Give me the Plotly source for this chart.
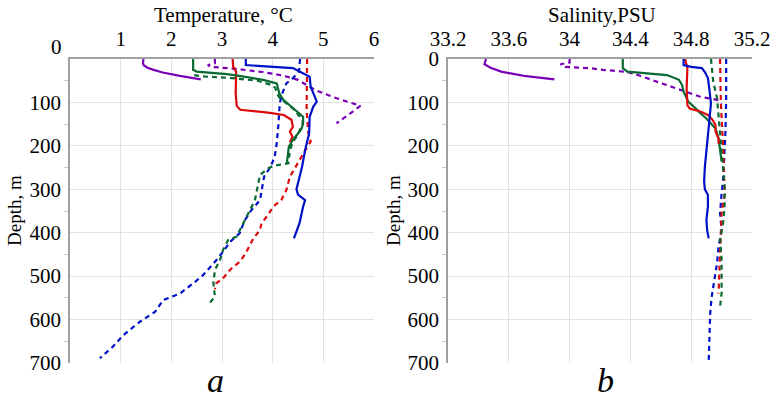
import plotly.graph_objects as go

# ---------------- Panel a : Temperature ----------------
ta_purple_solid_d = [0, 10, 15, 20, 25, 31, 39, 47]
ta_purple_solid_t = [1.45, 1.44, 1.46, 1.53, 1.65, 1.83, 2.17, 2.58]

ta_purple_dash_d = [0, 10, 14, 18, 23, 30, 38, 48, 60, 72, 88, 108, 128, 148]
ta_purple_dash_t = [2.86, 2.86, 2.72, 2.78, 3.3, 3.8, 4.2, 4.5, 4.67, 4.85, 5.2, 5.73, 5.5, 5.26]

ta_blue_solid_d = [0, 14, 21, 41, 64, 87, 98, 110, 133, 171, 210, 248, 282, 300, 312, 325, 340, 378, 413]
ta_blue_solid_t = [3.47, 3.47, 4.4, 4.73, 4.75, 4.83, 4.87, 4.8, 4.73, 4.72, 4.64, 4.58, 4.5, 4.47, 4.5, 4.64, 4.6, 4.53, 4.42]

ta_blue_dash_d = [0, 29, 44, 56, 79, 102, 156, 194, 225, 248, 271, 294, 309, 325, 348, 371, 401, 421, 444,
                  463, 497, 513, 540, 555, 582, 605, 636, 662, 689]
ta_blue_dash_t = [4.54, 4.52, 4.4, 4.27, 4.19, 4.14, 4.11, 4.08, 4.04, 3.96, 3.83, 3.8, 3.78, 3.75, 3.58, 3.45,
                  3.35, 3.16, 3.02, 2.89, 2.63, 2.47, 2.17, 1.84, 1.68, 1.38, 1.05, 0.85, 0.59]

ta_red_solid_d = [0, 18, 29, 79, 108, 117, 124, 129, 140, 156, 167, 179, 192]
ta_red_solid_t = [3.21, 3.22, 3.28, 3.27, 3.29, 3.36, 3.95, 4.22, 4.37, 4.4, 4.34, 4.39, 4.34]

ta_red_dash_d = [0, 68, 117, 167, 190, 205, 229, 244, 271, 302, 325, 340, 359, 378, 394, 413, 447, 467, 484,
                 505, 516, 530]
ta_red_dash_t = [4.68, 4.68, 4.67, 4.7, 4.75, 4.67, 4.55, 4.47, 4.34, 4.27, 4.17, 4.01, 3.91, 3.78, 3.75, 3.62,
                 3.47, 3.35, 3.17, 3.02, 2.89, 2.86]

ta_green_solid_d = [0, 25, 29, 35, 40, 48, 56, 79, 94, 114, 133, 150, 163, 186, 202, 220, 240]
ta_green_solid_t = [2.43, 2.43, 2.5, 3.1, 3.4, 3.81, 4.08, 4.13, 4.21, 4.4, 4.6, 4.6, 4.56, 4.4, 4.32, 4.3, 4.28]

ta_green_dash_d = [37, 40, 44, 50, 60, 66, 78, 90, 114, 133, 144, 163, 179, 190, 210, 240, 246, 252, 267, 294,
                   325, 348, 378, 409, 417, 440, 463, 486, 516, 547, 566]
ta_green_dash_t = [2.45, 2.6, 3.2, 3.7, 3.98, 4.05, 4.08, 4.14, 4.4, 4.54, 4.6, 4.54, 4.47, 4.4, 4.34, 4.31,
                   4.01, 3.91, 3.75, 3.71, 3.65, 3.55, 3.42, 3.29, 3.12, 3.02, 2.96, 2.86, 2.83, 2.86, 2.73]

# ---------------- Panel b : Salinity ----------------
sb_purple_solid_d = [0, 12, 20, 29, 39, 47]
sb_purple_solid_s = [33.45, 33.44, 33.48, 33.55, 33.7, 33.9]

sb_purple_dash_d = [0, 8, 12, 18, 21, 25, 30, 37, 48, 60, 75, 87, 94, 104]
sb_purple_dash_s = [34.0, 34.0, 33.94, 33.97, 34.13, 34.22, 34.38, 34.45, 34.54, 34.64, 34.77, 34.86, 34.97, 35.0]

sb_blue_solid_d = [0, 14, 18, 21, 30, 44, 71, 102, 140, 175, 210, 248, 282, 300, 313, 340, 371, 394, 413]
sb_blue_solid_s = [34.75, 34.75, 34.8, 34.87, 34.89, 34.91, 34.92, 34.93, 34.92, 34.91, 34.9, 34.89, 34.885,
                   34.89, 34.91, 34.91, 34.9, 34.905, 34.915]

sb_blue_dash_d = [0, 94, 171, 248, 279, 309, 355, 394, 432, 470, 509, 547, 585, 624, 662, 697]
sb_blue_dash_s = [35.03, 35.03, 35.025, 35.015, 35.01, 35.0, 34.99, 35.0, 34.98, 34.97, 34.95, 34.935, 34.925,
                  34.92, 34.92, 34.915]

sb_red_solid_d = [0, 21, 67, 106, 114, 121, 129, 140, 152, 167, 183, 195]
sb_red_solid_s = [34.76, 34.775, 34.77, 34.775, 34.79, 34.86, 34.91, 34.94, 34.96, 34.96, 34.98, 34.98]

sb_red_dash_d = [0, 100, 200, 313, 355, 432, 470, 524, 540]
sb_red_dash_s = [34.99, 34.995, 35.01, 35.02, 35.0, 34.99, 34.99, 34.98, 34.98]

sb_green_solid_d = [0, 21, 29, 33, 37, 48, 60, 75, 98, 114, 125, 137, 160, 183, 206, 236]
sb_green_solid_s = [34.35, 34.35, 34.38, 34.5, 34.64, 34.72, 34.74, 34.75, 34.78, 34.83, 34.86, 34.9, 34.96,
                    34.98, 34.99, 35.0]

sb_green_dash_d = [0, 52, 90, 150, 221, 294, 340, 378, 417, 460, 493, 540, 570]
sb_green_dash_s = [34.93, 34.945, 34.97, 34.985, 35.0, 35.02, 35.02, 35.01, 34.99, 35.0, 35.0, 35.0, 34.99]

temp_ticks = [1, 2, 3, 4, 5, 6]
sal_ticks = [33.2, 33.6, 34.0, 34.4, 34.8, 35.2]
sal_ticktext = ["33.2", "33.6", "34", "34.4", "34.8", "35.2"]
depth_ticks = [0, 100, 200, 300, 400, 500, 600, 700]

PURPLE = "#7a00b8"
BLUE = "#0010c8"
RED = "#dd0a0a"
GREEN = "#0a6a32"
DASH = "5px,4px"
FONT = "Liberation Serif"

fig = go.Figure()

def add(x, y, color, dashed, xa, ya):
    fig.add_trace(go.Scatter(
        x=x, y=y, mode="lines", xaxis=xa, yaxis=ya, showlegend=False,
        line=dict(color=color, width=2.2, dash=DASH if dashed else "solid"),
        hoverinfo="skip"))

# panel a
add(ta_purple_dash_t, ta_purple_dash_d, PURPLE, True, "x", "y")
add(ta_blue_dash_t, ta_blue_dash_d, BLUE, True, "x", "y")
add(ta_red_dash_t, ta_red_dash_d, RED, True, "x", "y")
add(ta_green_dash_t, ta_green_dash_d, GREEN, True, "x", "y")
add(ta_purple_solid_t, ta_purple_solid_d, PURPLE, False, "x", "y")
add(ta_red_solid_t, ta_red_solid_d, RED, False, "x", "y")
add(ta_green_solid_t, ta_green_solid_d, GREEN, False, "x", "y")
add(ta_blue_solid_t, ta_blue_solid_d, BLUE, False, "x", "y")

# panel b
add(sb_purple_dash_s, sb_purple_dash_d, PURPLE, True, "x2", "y2")
add(sb_blue_dash_s, sb_blue_dash_d, BLUE, True, "x2", "y2")
add(sb_red_dash_s, sb_red_dash_d, RED, True, "x2", "y2")
add(sb_green_dash_s, sb_green_dash_d, GREEN, True, "x2", "y2")
add(sb_purple_solid_s, sb_purple_solid_d, PURPLE, False, "x2", "y2")
add(sb_green_solid_s, sb_green_solid_d, GREEN, False, "x2", "y2")
add(sb_red_solid_s, sb_red_solid_d, RED, False, "x2", "y2")
add(sb_blue_solid_s, sb_blue_solid_d, BLUE, False, "x2", "y2")

# the page's body margin is removed (post_script below), so the figure fills the window
W, H = 772, 399
def px(v):
    return v / W
def py(v):
    return 1 - v / H

ydom = [py(363), py(59)]

common_x = dict(side="top", showgrid=True, gridcolor="#e3e3e3", gridwidth=1, automargin=False,
                showline=True, linecolor="#a0a0a0", linewidth=1.5, ticks="",
                tickfont=dict(family=FONT, size=21, color="black"),
                zeroline=False, ticklabelstandoff=3)
common_y = dict(autorange=False, range=[700, 0], showgrid=True, gridcolor="#e3e3e3", gridwidth=1,
                showline=True, linecolor="#a0a0a0", linewidth=1.5, ticks="", automargin=False,
                tickfont=dict(family=FONT, size=21, color="black"),
                zeroline=False, ticklabelstandoff=3,
                minor=dict(tickvals=[50, 150, 250, 350, 450, 550, 650], ticks="outside", ticklen=4,
                           tickcolor="#c8c8c8", showgrid=False))

def label(text, x, y, size, angle=0, xanchor="center"):
    return dict(text=text, x=px(x), xref="paper", xanchor=xanchor, y=py(y), yref="paper",
                yanchor="middle", showarrow=False, textangle=angle,
                font=dict(family=FONT, size=size, color="black"))

fig.update_layout(
    width=W, height=H, margin=dict(l=0, r=0, t=0, b=0),
    paper_bgcolor="white", plot_bgcolor="white",
    xaxis=dict(domain=[px(70), px(374)], range=[0, 6], tickvals=temp_ticks, anchor="y", **common_x),
    # depth "0" of panel a is printed a little higher in the original; it is placed as an annotation
    yaxis=dict(domain=ydom, anchor="x", tickvals=depth_ticks[1:], **common_y),
    xaxis2=dict(domain=[px(448), px(752)], range=[33.2, 35.2], tickvals=sal_ticks, ticktext=sal_ticktext,
                anchor="y2", **common_x),
    yaxis2=dict(domain=ydom, anchor="x2", tickvals=depth_ticks, **common_y),
    annotations=[
        label("Temperature, °C", 223, 15, 21),
        label("Salinity,PSU", 602, 15, 21),
        label("Depth, m", 14, 211, 19, angle=-90),
        label("Depth, m", 393, 211, 19, angle=-90),
        label("0", 64, 47, 21, xanchor="right"),
        label("<i>a</i>", 215, 380, 34),
        label("<i>b</i>", 605, 380, 34),
    ],
)

fig.write_html("out.html", config={"displayModeBar": False},
               post_script="document.body.style.margin='0';")
